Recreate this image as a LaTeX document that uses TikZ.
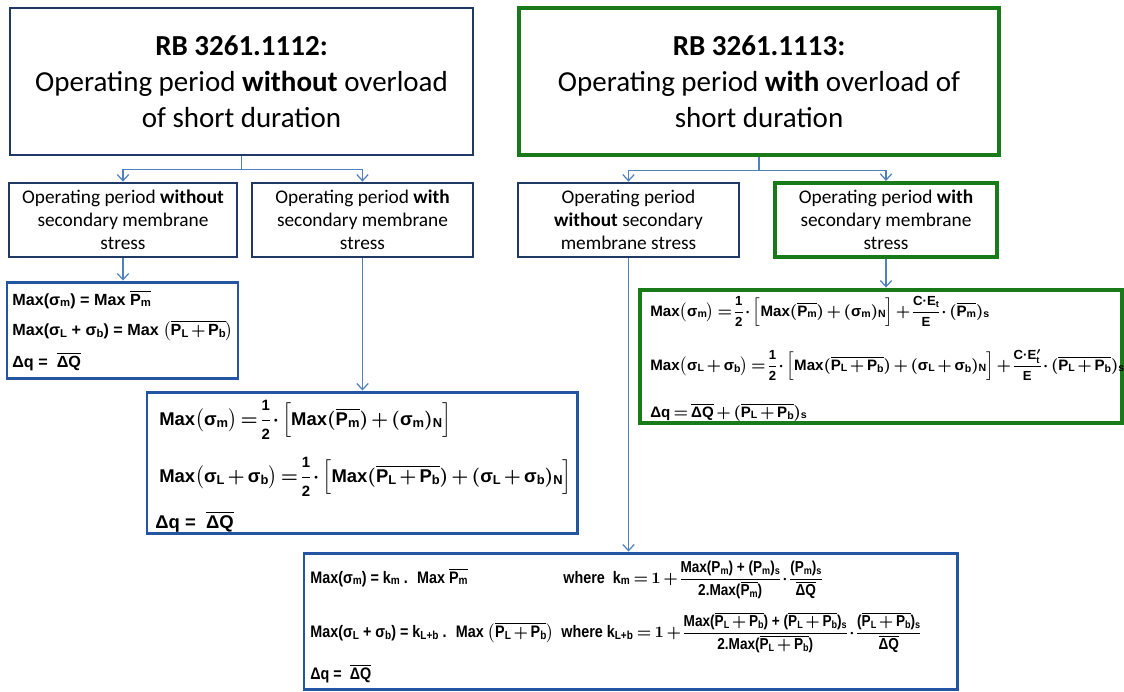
\documentclass[tikz,border=0pt]{standalone}
\usepackage{amsmath}
\usepackage{fontspec}
\setmainfont{Carlito}
\newfontfamily\fmlfont{Liberation Sans}
\newfontfamily\fmlnarrow[FakeStretch=0.86]{Liberation Sans}
\usetikzlibrary{arrows.meta}

\definecolor{navy}{RGB}{31,56,100}
\definecolor{leafgreen}{RGB}{24,122,24}
\definecolor{formblue}{RGB}{36,84,164}
\definecolor{linkblue}{RGB}{79,129,189}

\newlength\pxl
\setlength\pxl{0.02cm}

% shorthands for the stress formulas
\newcommand\tx[1]{\text{#1}}
\newcommand\sg[1]{\text{σ}_{\text{#1}}}
\newcommand\Pe[1]{\text{P}_{\text{#1}}}
\newcommand\ob[1]{\overline{#1}}
% fraction with its own font size: \fr{size}{numerator}{denominator}
\newcommand\fr[3]{\dfrac{\text{\fontsize{#1}{#1}\selectfont #2}}{\text{\fontsize{#1}{#1}\selectfont #3}}}

\tikzset{
  navybox/.style={draw=navy, line width=1.6pt, align=center, inner sep=0pt},
  greenbox/.style={draw=leafgreen, line width=2.8pt, align=center, inner sep=0pt},
  fmlbox/.style={draw=formblue, line width=1.7pt, inner sep=0pt},
  fml/.style={anchor=base west, inner sep=0pt, font=\fmlfont\bfseries\boldmath,
    execute at begin node={\thickmuskip=3mu\medmuskip=2.5mu\thinmuskip=1.5mu\nulldelimiterspace=0pt\scriptspace=0pt}},
  link/.style={draw=linkblue, line width=0.7pt, -{Straight Barb[length=3.5pt,width=6.5pt]}},
}

\begin{document}
\begin{tikzpicture}[x=0.02cm, y=-0.02cm]
			\useasboundingbox (0,0) rectangle (1124,691);
			
			%%%%% top: the two RB cases %%%%%
			\node[navybox, minimum width=463\pxl, minimum height=147\pxl, font=\fontsize{16.5}{20.5}\selectfont] (rb12) at (241.5,81.5)
			{\textbf{RB 3261.1112:}\\Operating period \textbf{without} overload\\of short duration};
			\node[greenbox, minimum width=480\pxl, minimum height=147\pxl, font=\fontsize{16.5}{20.5}\selectfont] (rb13) at (759,81.5)
			{\textbf{RB 3261.1113:}\\Operating period \textbf{with} overload of\\short duration};
			
			%%%%% second row: secondary membrane stress %%%%%
			\node[navybox, minimum width=228\pxl, minimum height=74\pxl, font=\fontsize{11}{13}\selectfont] (nosec1) at (123,220)
			{Operating period \textbf{without}\\secondary membrane\\stress};
			\node[navybox, minimum width=221\pxl, minimum height=74\pxl, font=\fontsize{11}{13}\selectfont] (sec1) at (362.5,220)
			{Operating period \textbf{with}\\secondary membrane\\stress};
			\node[navybox, minimum width=221\pxl, minimum height=74\pxl, font=\fontsize{11}{13}\selectfont] (nosec2) at (628.5,220)
			{Operating period\\\textbf{without} secondary\\membrane stress};
			\node[greenbox, line width=2.4pt, minimum width=222\pxl, minimum height=74\pxl, font=\fontsize{11}{13}\selectfont] (sec2) at (886,220)
			{Operating period \textbf{with}\\secondary membrane\\stress};
			
			%%%%% formula boxes %%%%%
			\node[fmlbox, minimum width=231\pxl, minimum height=96\pxl] (fmlA) at (122.5,330) {};
			\node[fmlbox, minimum width=430\pxl, minimum height=141\pxl] (fmlB) at (362,462.5) {};
			\node[fmlbox, draw=leafgreen, line width=2.8pt, minimum width=482\pxl, minimum height=133\pxl] (fmlC) at (881,356.5) {};
			\node[fmlbox, minimum width=653\pxl, minimum height=136\pxl] (fmlD) at (630.5,621) {};
			
			% without overload, without secondary stress
			\node[fml, font=\fmlfont\bfseries\boldmath\fontsize{9.2}{11}\selectfont] (a1) at (12,305)
			{Max(σ$_\text{m}$) = Max $\ob{\Pe{m}}$};
			\node[fml, font=\fmlfont\bfseries\boldmath\fontsize{9.2}{11}\selectfont] (a2) at (12,335)
			{Max(σ$_\text{L}$ + σ$_\text{b}$) =  Max $\big(\ob{\Pe{L} + \Pe{b}}\big)$};
			\node[fml, font=\fmlfont\bfseries\boldmath\fontsize{9.2}{11}\selectfont] (a3) at (12,367)
			{Δq = \ $\ob{\tx{ΔQ}}$};
			
			% without overload, with secondary stress
			\node[fml, font=\fmlfont\bfseries\boldmath\fontsize{10.5}{13}\selectfont] (b1) at (159,425)
			{$\tx{Max}\big(\sg{m}\big) = \fr{8.5}{1}{2}\cdot\Big[\tx{Max}(\ob{\Pe{m}}) + (\sg{m})_{\tx{N}}\Big]$};
			\node[fml, font=\fmlfont\bfseries\boldmath\fontsize{10.5}{13}\selectfont] (b2) at (159,482)
			{$\tx{Max}\big(\sg{L} + \sg{b}\big) = \fr{8.5}{1}{2}\cdot\Big[\tx{Max}(\ob{\Pe{L} + \Pe{b}}) + (\sg{L} + \sg{b})_{\tx{N}}\Big]$};
			\node[fml, font=\fmlfont\bfseries\boldmath\fontsize{10.5}{12}\selectfont] (b3) at (155,528)
			{Δq = \ $\ob{\tx{ΔQ}}$};
			
			% with overload, with secondary stress
			\node[fml, font=\fmlfont\bfseries\boldmath\fontsize{8.6}{11}\selectfont] (c1) at (650,316)
			{$\tx{Max}\big(\sg{m}\big) = \fr{7.5}{1}{2}\cdot\Big[\tx{Max}(\ob{\Pe{m}}) + (\sg{m})_{\tx{N}}\Big] + \fr{7.5}{C·E$_\text{t}$}{E}\cdot(\ob{\Pe{m}})_{\tx{s}}$};
			\node[fml, font=\fmlfont\bfseries\boldmath\fontsize{8.6}{11}\selectfont] (c2) at (650,370)
			{$\tx{Max}\big(\sg{L} + \sg{b}\big) = \fr{7.5}{1}{2}\cdot\Big[\tx{Max}(\ob{\Pe{L} + \Pe{b}}) + (\sg{L} + \sg{b})_{\tx{N}}\Big] + \fr{7.5}{C·E$'_\text{t}$}{E}\cdot(\ob{\Pe{L} + \Pe{b}})_{\tx{s}}$};
			\node[fml, font=\fmlfont\bfseries\boldmath\fontsize{8.6}{11}\selectfont] (c3) at (650,417)
			{$\tx{Δq} = \ob{\tx{ΔQ}} + (\ob{\Pe{L} + \Pe{b}})_{\tx{s}}$};
			
			% with overload, without secondary stress
			\node[fml, font=\fmlnarrow\bfseries\boldmath\fontsize{9.5}{11}\selectfont] (d1) at (310,583)
			{Max(σ$_\text{m}$) = k$_\text{m}$ . \ Max $\ob{\Pe{m}}$};
			\node[fml, font=\fmlnarrow\bfseries\boldmath\fontsize{9.5}{11}\selectfont] (d1w) at (563,583)
			{where\ \ k$_\text{m}$ $= 1 + \fr{9}{Max(P$_\text{m}$) + (P$_\text{m}$)$_\text{s}$}{2.Max($\ob{\Pe{m}}$)}\cdot\fr{9}{(P$_\text{m}$)$_\text{s}$}{$\ob{\tx{ΔQ}}$}$};
			\node[fml, font=\fmlnarrow\bfseries\boldmath\fontsize{9.5}{11}\selectfont] (d2) at (310,637)
			{Max(σ$_\text{L}$ + σ$_\text{b}$) = k$_\text{L+b}$ . \ Max $\big(\ob{\Pe{L} + \Pe{b}}\big)$};
			\node[fml, font=\fmlnarrow\bfseries\boldmath\fontsize{9.5}{11}\selectfont] (d2w) at (561,637)
			{where k$_\text{L+b}$ $= 1 + \fr{9}{Max($\ob{\Pe{L} + \Pe{b}}$) + ($\ob{\Pe{L} + \Pe{b}}$)$_\text{s}$}{2.Max($\ob{\Pe{L} + \Pe{b}}$)}\cdot\fr{9}{($\ob{\Pe{L} + \Pe{b}}$)$_\text{s}$}{$\ob{\tx{ΔQ}}$}$};
			\node[fml, font=\fmlnarrow\bfseries\boldmath\fontsize{9.5}{11}\selectfont] (d3) at (310,679)
			{Δq = \ $\ob{\tx{ΔQ}}$};
			
			%%%%% connectors %%%%%
			\draw[link] (rb12.south) -- ++(0,13) -| (nosec1.north);
			\draw[link] (rb12.south) -- ++(0,13) -| (sec1.north);
			\draw[link] (rb13.south) -- ++(0,13) -| (nosec2.north);
			\draw[link] (rb13.south) -- ++(0,13) -| (sec2.north);
			
			\draw[link] (nosec1.south) -- (nosec1.south |- fmlA.north);
			\draw[link] (sec1.south) -- (sec1.south |- fmlB.north);
			\draw[link] (nosec2.south) -- (nosec2.south |- fmlD.north);
			\draw[link] (sec2.south) -- (sec2.south |- fmlC.north);
			
\end{tikzpicture}
\end{document}
